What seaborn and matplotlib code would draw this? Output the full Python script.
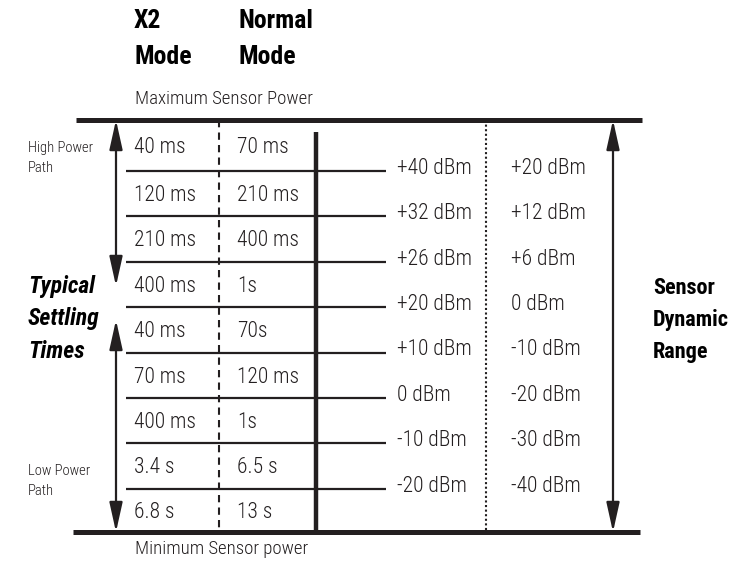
import matplotlib
matplotlib.use("Agg")
import matplotlib.pyplot as plt
import seaborn as sns


# ======================
# DATA
# ======================

x2_times = ["40 ms", "120 ms", "210 ms", "400 ms", "40 ms",
            "70 ms", "400 ms", "3.4 s", "6.8 s"]
normal_times = ["70 ms", "210 ms", "400 ms", "1s", "70s",
                "120 ms", "1s", "6.5 s", "13 s"]
sensor_levels = ["+40 dBm", "+32 dBm", "+26 dBm", "+20 dBm",
                 "+10 dBm", "0 dBm", "-10 dBm", "-20 dBm"]
dynamic_levels = ["+20 dBm", "+12 dBm", "+6 dBm", "0 dBm",
                  "-10 dBm", "-20 dBm", "-30 dBm", "-40 dBm"]
mode_headers = ["X2\nMode", "Normal\nMode"]


# ======================
# CONFIG
# ======================

sns.set_theme(style="white")
plt.rcParams["font.family"] = ["Roboto Condensed", "Liberation Sans Narrow",
                               "Liberation Sans", "DejaVu Sans"]

INK = "#231f20"
LIGHT = 300
n_rows = len(x2_times)

# layout: x in pixels, y in row units (row k boundary = line between rows)
top_px, row_px = 125.6, 45.4
fig = plt.figure(figsize=(7.45, 5.65), dpi=100)
ax = fig.add_axes([0, 0, 1, 1])
ax.set_xlim(0, 745)
ax.set_ylim((565 - top_px) / row_px, -top_px / row_px)
ax.axis("off")


def py(p):
    # pixel row -> row units
    return (p - top_px) / row_px


# ======================
# LINES
# ======================

y_top, y_bot = py(120), py(532)
ax.hlines([y_top, y_bot], [76, 73], [642, 640], color=INK, lw=3.6)

boundaries = list(range(1, n_rows))
ax.hlines(boundaries, 126, 386, color=INK, lw=1.6)

ax.vlines(316, py(132), y_bot, color=INK, lw=3.2)
ax.vlines(219, y_top, y_bot, color=INK, lw=1.5, linestyles=(0, (3.5, 2.5)))
ax.vlines(486, y_top, y_bot, color=INK, lw=1.5, linestyles=(0, (1, 1.2)))

arrow = dict(arrowstyle="<|-|>,head_length=0.9,head_width=0.2",
             color=INK, lw=1.6, shrinkA=0, shrinkB=0, mutation_scale=20)
ax.annotate("", xy=(116, y_top), xytext=(116, py(286)), arrowprops=arrow)
ax.annotate("", xy=(116, py(320)), xytext=(116, y_bot), arrowprops=arrow)
ax.annotate("", xy=(613, y_top), xytext=(613, y_bot), arrowprops=arrow)


# ======================
# TEXT
# ======================

edges = [y_top] + boundaries + [y_bot]
centers = [(a + b) / 2 + 0.04 for a, b in zip(edges[:-1], edges[1:])]

cell_fs = 15.5
for yc, a, b in zip(centers, x2_times, normal_times):
    ax.text(134, yc, a, fontsize=cell_fs, fontweight=LIGHT, color=INK, va="center")
    ax.text(237, yc, b, fontsize=cell_fs, fontweight=LIGHT, color=INK, va="center")

for b, (s, d) in zip(boundaries, zip(sensor_levels, dynamic_levels)):
    ax.text(397, b - 0.06, s, fontsize=cell_fs, fontweight=LIGHT, color=INK, va="center")
    ax.text(511, b - 0.06, d, fontsize=cell_fs, fontweight=LIGHT, color=INK, va="center")

for x, h in zip([134, 238], mode_headers):
    ax.text(x, py(39), h, fontsize=18.5, fontweight="bold", color="black",
            va="center", linespacing=1.65)

ax.text(135, py(99), "Maximum Sensor Power", fontsize=13.5, fontweight=LIGHT,
        color=INK, va="center")
ax.text(135, py(549), "Minimum Sensor power", fontsize=13.5, fontweight=LIGHT,
        color=INK, va="center")

ax.text(28, py(158), "High Power\nPath", fontsize=10.5, fontweight=LIGHT,
        color=INK, va="center", linespacing=1.6)
ax.text(28, py(481), "Low Power\nPath", fontsize=10.5, fontweight=LIGHT,
        color=INK, va="center", linespacing=1.6)

ax.text(28, py(319), "Typical\nSettling\nTimes", fontsize=17, fontweight="bold",
        fontstyle="italic", color="black", va="center", linespacing=1.55)
ax.text(653, py(320), "Sensor\nDynamic\nRange", fontsize=16, fontweight="bold",
        color="black", va="center", linespacing=1.6)

plt.savefig("out.png", dpi=100)
plt.close()
